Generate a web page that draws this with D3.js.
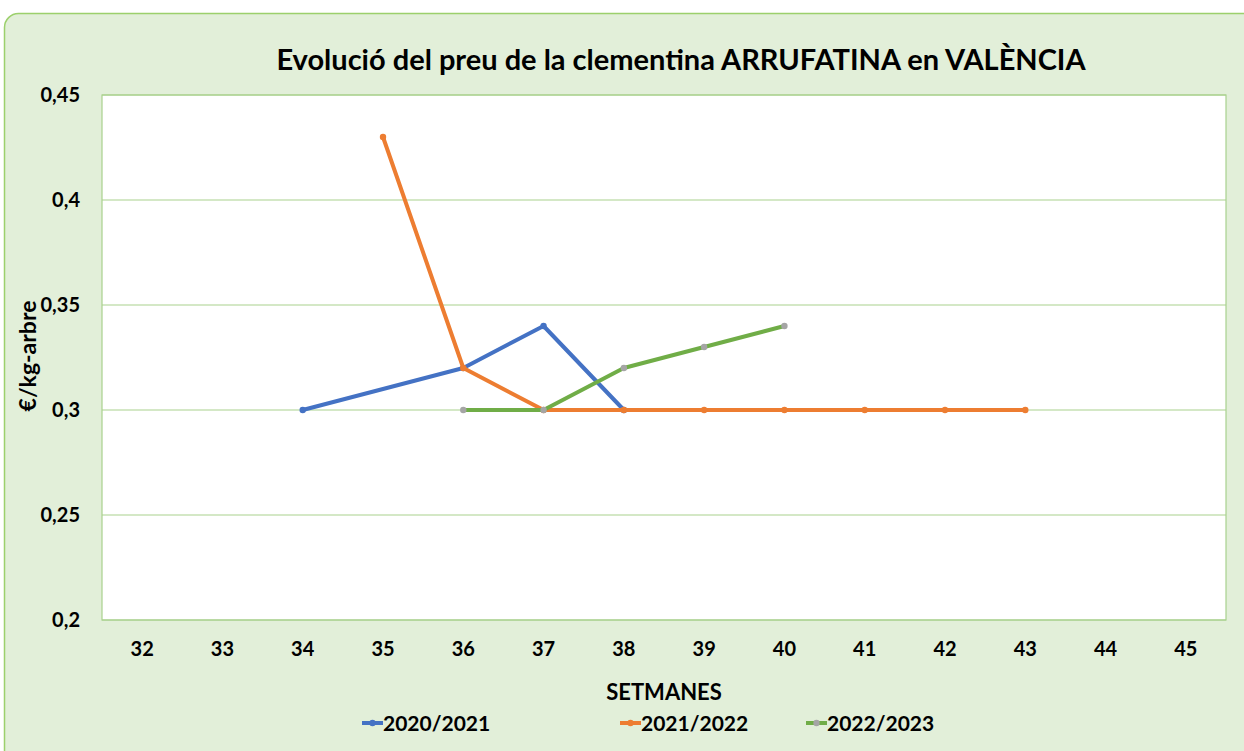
<!DOCTYPE html>
<html><head><meta charset="utf-8">
<script src="https://cdn.jsdelivr.net/npm/d3@7"></script>
<style>
html,body{margin:0;padding:0;background:#fff;}
svg text{font-family:Lato,"Open Sans",sans-serif;font-weight:bold;fill:#000;}
</style></head>
<body>
<svg id="c" width="1244" height="751"></svg>
<script>
const weeks = [32,33,34,35,36,37,38,39,40,41,42,43,44,45];
const yTicks = [0.2,0.25,0.3,0.35,0.4,0.45];
const seriesNames = ["2020/2021","2021/2022","2022/2023"];
const s2020 = [null,null,0.30,null,0.32,0.34,0.30,null,null,null,null,null,null,null];
const s2021 = [null,null,null,0.43,0.32,0.30,0.30,0.30,0.30,0.30,0.30,0.30,null,null];
const s2022 = [null,null,null,null,0.30,0.30,0.32,0.33,0.34,null,null,null,null,null];
const lineColors = ["#4472c4","#ed7d31","#70ad47"];
const markerColors = ["#4472c4","#ed7d31","#a5a5a5"];

const svg = d3.select("#c");
svg.append("rect").attr("x",4.5).attr("y",13.5).attr("width",1260).attr("height",760)
  .attr("rx",14).attr("fill","#e2efd9").attr("stroke","#9cd06c").attr("stroke-width",1.5);

const m = {l:102,r:1226,t:95,b:620};
const x = d3.scaleBand().domain(weeks).range([m.l,m.r]);
const y = d3.scaleLinear().domain([0.2,0.45]).range([m.b,m.t]);
const fmt = d => String(+d.toFixed(2)).replace(".",",");

svg.append("rect").attr("x",m.l).attr("y",m.t).attr("width",m.r-m.l).attr("height",m.b-m.t)
  .attr("fill","#fff").attr("stroke","#a9d18e").attr("stroke-width",1.2);

const grid = svg.append("g");
grid.selectAll("line").data(yTicks).join("line")
  .attr("x1",m.l).attr("x2",m.r).attr("y1",d=>y(d)).attr("y2",d=>y(d))
  .attr("stroke","#a9d18e").attr("stroke-width",1.2);

const yAxis = svg.append("g").attr("transform",`translate(${m.l},0)`)
  .call(d3.axisLeft(y).tickValues(yTicks).tickFormat(fmt).tickSize(0).tickPadding(22));
yAxis.select(".domain").remove();
yAxis.selectAll("text").attr("font-size",20).style("font-family","Lato,sans-serif");

const xAxis = svg.append("g").attr("transform",`translate(0,${m.b})`)
  .call(d3.axisBottom(x).tickSize(0).tickPadding(22));
xAxis.select(".domain").remove();
xAxis.selectAll("text").attr("font-size",20).style("font-family","Lato,sans-serif");

const all = [s2020,s2021,s2022];
const line = d3.line().x(d=>x(d.w)+x.bandwidth()/2).y(d=>y(d.v));
all.forEach((s,i)=>{
  const pts = weeks.map((w,j)=>({w,v:s[j]})).filter(d=>d.v!=null);
  svg.append("path").datum(pts).attr("d",line).attr("fill","none")
    .attr("stroke",lineColors[i]).attr("stroke-width",4).attr("stroke-linejoin","round");
  svg.append("g").selectAll("circle").data(pts).join("circle")
    .attr("cx",d=>x(d.w)+x.bandwidth()/2).attr("cy",d=>y(d.v)).attr("r",3.2)
    .attr("fill",markerColors[i]);
});

svg.append("text").attr("x",681).attr("y",70).attr("text-anchor","middle")
  .attr("font-size",29).text("Evolució del preu de la clementina ARRUFATINA en VALÈNCIA");
svg.append("text").attr("transform",`translate(36,356) rotate(-90)`).attr("text-anchor","middle")
  .attr("font-size",23).text("€/kg-arbre");
svg.append("text").attr("x",664).attr("y",700).attr("text-anchor","middle")
  .attr("font-size",22).text("SETMANES");

const legX = [362,620,806];
seriesNames.forEach((n,i)=>{
  const g = svg.append("g").attr("transform",`translate(${legX[i]},723)`);
  g.append("line").attr("x1",0).attr("x2",21).attr("y1",0).attr("y2",0)
    .attr("stroke",lineColors[i]).attr("stroke-width",4);
  g.append("circle").attr("cx",10.5).attr("cy",0).attr("r",3.2).attr("fill",markerColors[i]);
  g.append("text").attr("x",21).attr("y",7.5).attr("font-size",21).text(n);
});
</script>
</body></html>
